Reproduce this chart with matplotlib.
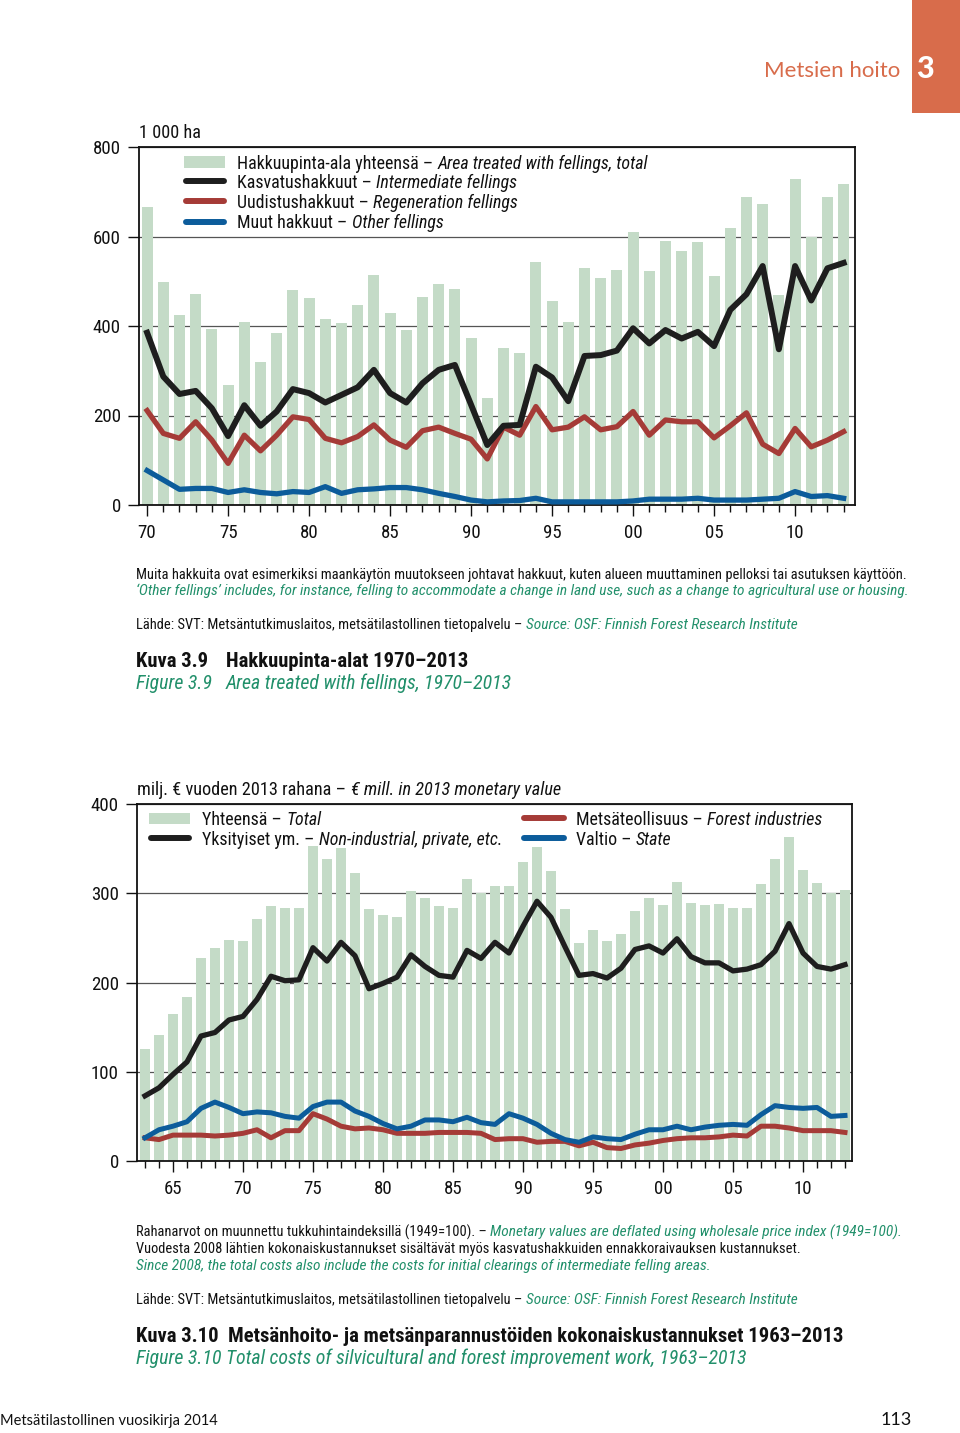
import matplotlib
matplotlib.use('Agg')
import matplotlib.pyplot as plt
from matplotlib import font_manager
from matplotlib.patches import Rectangle
from matplotlib.lines import Line2D

# ---------------- data ----------------
years1 = list(range(1970, 2014))
area_total = [667, 498, 425, 471, 393, 268, 410, 319, 384, 481,
              463, 416, 407, 446, 513, 428, 390, 465, 493, 482,
              373, 238, 351, 340, 542, 456, 409, 530, 507, 525,
              610, 524, 591, 568, 588, 511, 619, 688, 673, 470,
              728, 600, 688, 718]
intermediate = [385, 287, 248, 255, 216, 154, 223, 177, 209, 259,
                250, 229, 246, 263, 302, 250, 229, 272, 302, 313,
                224, 134, 177, 179, 309, 285, 232, 333, 335, 345,
                395, 361, 391, 372, 387, 355, 436, 471, 534, 348,
                534, 457, 529, 541]
regeneration = [211, 160, 149, 186, 145, 93, 156, 121, 156, 197,
                191, 149, 139, 153, 179, 145, 129, 166, 174, 160,
                147, 103, 174, 156, 220, 168, 174, 197, 168, 175,
                209, 156, 190, 186, 186, 150, 177, 206, 136, 115,
                171, 130, 145, 164]
other = [77, 56, 35, 37, 37, 28, 34, 28, 25, 30,
         28, 41, 26, 34, 36, 39, 39, 34, 26, 19,
         11, 7, 9, 10, 15, 7, 7, 7, 7, 7,
         9, 13, 13, 13, 15, 11, 11, 11, 13, 15,
         30, 19, 21, 15]
xt1 = [1970, 1975, 1980, 1985, 1990, 1995, 2000, 2005, 2010]
xt1_labels = ['70', '75', '80', '85', '90', '95', '00', '05', '10']
yt1 = [0, 200, 400, 600, 800]

years2 = list(range(1963, 2014))
total_costs = [125, 141, 165, 184, 227, 239, 248,
               247, 271, 286, 284, 284, 353, 338, 351, 323, 282,
               276, 273, 302, 295, 286, 283, 316, 300, 308, 308,
               335, 352, 325, 282, 244, 259, 247, 254, 280, 295,
               287, 313, 289, 287, 288, 283, 283, 310, 338, 363,
               326, 312, 300, 304]
private = [73, 82, 97, 111, 140, 144, 158,
           162, 181, 207, 202, 203, 239, 224, 245, 230, 193,
           199, 206, 231, 218, 208, 206, 236, 227, 245, 233,
           263, 291, 273, 240, 208, 210, 205, 216, 237, 241,
           233, 249, 229, 222, 222, 213, 215, 220, 235, 266,
           233, 218, 215, 220]
industries = [26, 24, 29, 29, 29, 28, 29,
              31, 35, 26, 34, 34, 53, 47, 39, 36, 37,
              35, 31, 31, 31, 32, 32, 32, 31, 24, 25,
              25, 21, 22, 22, 17, 21, 15, 14, 18, 20,
              23, 25, 26, 26, 27, 29, 28, 39, 39, 37,
              34, 34, 34, 32]
state = [26, 35, 39, 44, 59, 66, 60,
         53, 55, 54, 50, 48, 61, 66, 66, 56, 50,
         42, 36, 39, 46, 46, 44, 49, 43, 41, 53,
         48, 41, 31, 24, 21, 27, 25, 24, 30, 35,
         35, 39, 35, 38, 40, 41, 40, 52, 62, 60,
         59, 60, 50, 51]
xt2 = [1965, 1970, 1975, 1980, 1985, 1990, 1995, 2000, 2005, 2010]
xt2_labels = ['65', '70', '75', '80', '85', '90', '95', '00', '05', '10']
yt2 = [0, 100, 200, 300, 400]

NOTE1 = ('Muita hakkuita ovat esimerkiksi maankäytön muutokseen johtavat hakkuut, '
         'kuten alueen muuttaminen pelloksi tai asutuksen käyttöön.')

# ---------------- style ----------------
names = {f.name for f in font_manager.fontManager.ttflist}
main = 'Liberation Sans'
for cand in ['Roboto Condensed', 'Archivo Narrow', 'PT Sans Narrow', 'Liberation Sans Narrow']:
    if cand in names:
        main = cand
        break
FAM = [main, 'DejaVu Sans']
GILL = ['Lato', 'DejaVu Sans']
plt.rcParams['font.family'] = FAM

BAR = '#c4dbc7'
BLACK = '#1e1e1e'
RED = '#a53b37'
BLUE = '#0c5c9b'
GREEN_T = '#22906b'
ORANGE = '#d86c4b'
INK = '#111111'

W, H = 960, 1433
fig = plt.figure(figsize=(9.6, 14.33), dpi=100)
renderer = fig.canvas.get_renderer()

# calibrate the font size so the first note line spans its reference width
_t = fig.text(0, 0, NOTE1, fontsize=10, family=FAM)
SC = 0.995 * 767.0 / _t.get_window_extent(renderer=renderer).width
_t.remove()


def fx(x):
    return x / W


def fy(y):
    return 1 - y / H


def mtext(x, y, parts, gap=0.25):
    cx = x
    for s, it, col, bold, size in parts:
        t = fig.text(fx(cx), fy(y), s, fontsize=size * SC,
                     fontstyle='italic' if it else 'normal',
                     fontweight='bold' if bold else 'normal',
                     color=col, family=FAM, ha='left', va='baseline')
        bb = t.get_window_extent(renderer=renderer)
        cx = bb.x1 + gap * size * SC * 100 / 72


def style_axes(ax, xt, xtl, yt, minor):
    for sp in ax.spines.values():
        sp.set_linewidth(1.3)
        sp.set_color(INK)
    ax.set_xticks(xt, labels=xtl)
    ax.set_xticks(minor, minor=True)
    ax.set_yticks(yt)
    ax.tick_params(axis='x', which='major', length=8, width=1.0, pad=6,
                   labelsize=13 * SC, colors=INK)
    ax.tick_params(axis='x', which='minor', length=5, width=1.0, colors=INK)
    ax.tick_params(axis='y', length=8, width=1.0, pad=5, labelsize=13 * SC,
                   colors=INK)
    ax.yaxis.grid(True, color='#555555', lw=0.9)
    ax.set_axisbelow(True)


NS, NI = 10.0, 10.6      # note text: upright / italic
LS = 12.3                # legend text
TS, TI = 14.2, 13.7      # caption: bold / italic
US = 12.6                # unit labels

# ---------------- chart 1 ----------------
ax1 = fig.add_axes([fx(139), fy(505), (855 - 139) / W, (505 - 147) / H])
ax1.bar(years1, area_total, width=0.68, color=BAR, zorder=1)
ax1.plot(years1, intermediate, color=BLACK, lw=4.3, solid_joinstyle='round', zorder=4)
ax1.plot(years1, regeneration, color=RED, lw=3.8, solid_joinstyle='round', zorder=3)
ax1.plot(years1, other, color=BLUE, lw=3.8, solid_joinstyle='round', zorder=3)
ax1.set_xlim(1969.5, 2013.7)
ax1.set_ylim(0, 800)
style_axes(ax1, xt1, xt1_labels, yt1, years1)

mtext(139, 138, [('1 000 ha', False, INK, False, US)])

# legend chart 1
fig.add_artist(Rectangle((fx(184), fy(168)), 41 / W, 12 / H, transform=fig.transFigure,
                         color=BAR, lw=0))
for yy, col in [(181, BLACK), (201, RED), (221.5, BLUE)]:
    fig.add_artist(Line2D([fx(186), fx(224)], [fy(yy), fy(yy)], transform=fig.transFigure,
                          color=col, lw=4.3, solid_capstyle='round'))
mtext(237, 169, [('Hakkuupinta-ala yhteensä –', False, INK, False, LS),
                 ('Area treated with fellings, total', True, INK, False, LS)])
mtext(237, 188, [('Kasvatushakkuut –', False, INK, False, LS),
                 ('Intermediate fellings', True, INK, False, LS)])
mtext(237, 208, [('Uudistushakkuut –', False, INK, False, LS),
                 ('Regeneration fellings', True, INK, False, LS)])
mtext(237, 228, [('Muut hakkuut –', False, INK, False, LS),
                 ('Other fellings', True, INK, False, LS)])

# notes chart 1
mtext(136, 579, [(NOTE1, False, INK, False, NS)])
mtext(136, 595, [('‘Other fellings’ includes, for instance, felling to accommodate a change in '
                  'land use, such as a change to agricultural use or housing.', True, GREEN_T, False, NI)])
mtext(136, 629, [('Lähde: SVT: Metsäntutkimuslaitos, metsätilastollinen tietopalvelu –', False, INK, False, NS),
                 ('Source: OSF: Finnish Forest Research Institute', True, GREEN_T, False, NI)])
mtext(136, 667, [('Kuva 3.9', False, INK, True, TS)])
mtext(226, 667, [('Hakkuupinta-alat 1970–2013', False, INK, True, TS)])
mtext(136, 689, [('Figure 3.9', True, GREEN_T, False, TI)])
mtext(226, 689, [('Area treated with fellings, 1970–2013', True, GREEN_T, False, TI)])

# ---------------- chart 2 ----------------
ax2 = fig.add_axes([fx(137), fy(1161), (852 - 137) / W, (1161 - 804) / H])
ax2.bar(years2, total_costs, width=0.70, color=BAR, zorder=1)
ax2.plot(years2, private, color=BLACK, lw=3.8, solid_joinstyle='round', zorder=4)
ax2.plot(years2, industries, color=RED, lw=3.6, solid_joinstyle='round', zorder=3)
ax2.plot(years2, state, color=BLUE, lw=3.6, solid_joinstyle='round', zorder=3)
ax2.set_xlim(1962.43, 2013.5)
ax2.set_ylim(0, 400)
style_axes(ax2, xt2, xt2_labels, yt2, years2)

mtext(137, 795, [('milj. € vuoden 2013 rahana –', False, INK, False, US),
                 ('€ mill. in 2013 monetary value', True, INK, False, US)])

fig.add_artist(Rectangle((fx(149), fy(824)), 41 / W, 11 / H, transform=fig.transFigure,
                         color=BAR, lw=0))
fig.add_artist(Line2D([fx(151), fx(189)], [fy(838), fy(838)], transform=fig.transFigure,
                      color=BLACK, lw=4.3, solid_capstyle='round'))
fig.add_artist(Line2D([fx(524), fx(564)], [fy(818), fy(818)], transform=fig.transFigure,
                      color=RED, lw=4.3, solid_capstyle='round'))
fig.add_artist(Line2D([fx(524), fx(564)], [fy(838), fy(838)], transform=fig.transFigure,
                      color=BLUE, lw=4.3, solid_capstyle='round'))
mtext(202, 825, [('Yhteensä –', False, INK, False, LS), ('Total', True, INK, False, LS)])
mtext(202, 845, [('Yksityiset ym. –', False, INK, False, LS),
                 ('Non-industrial, private, etc.', True, INK, False, LS)])
mtext(576, 825, [('Metsäteollisuus –', False, INK, False, LS),
                 ('Forest industries', True, INK, False, LS)])
mtext(576, 845, [('Valtio –', False, INK, False, LS), ('State', True, INK, False, LS)])

mtext(136, 1237, [('Rahanarvot on muunnettu tukkuhintaindeksillä (1949=100). –', False, INK, False, NS),
                  ('Monetary values are deflated using wholesale price index (1949=100).', True, GREEN_T, False, NI)])
mtext(136, 1253, [('Vuodesta 2008 lähtien kokonaiskustannukset sisältävät myös kasvatushakkuiden '
                   'ennakkoraivauksen kustannukset.', False, INK, False, NS)])
mtext(136, 1270, [('Since 2008, the total costs also include the costs for initial clearings of '
                   'intermediate felling areas.', True, GREEN_T, False, NI)])
mtext(136, 1304, [('Lähde: SVT: Metsäntutkimuslaitos, metsätilastollinen tietopalvelu –', False, INK, False, NS),
                  ('Source: OSF: Finnish Forest Research Institute', True, GREEN_T, False, NI)])
mtext(136, 1342, [('Kuva 3.10  Metsänhoito- ja metsänparannustöiden kokonaiskustannukset 1963–2013',
                   False, INK, True, TS)])
mtext(136, 1364, [('Figure 3.10 Total costs of silvicultural and forest improvement work, 1963–2013',
                   True, GREEN_T, False, TI)])

# ---------------- page header / footer ----------------
fig.add_artist(Rectangle((fx(912), fy(113)), 48 / W, 113 / H, transform=fig.transFigure,
                         color=ORANGE, lw=0))
fig.text(fx(925), fy(78), '3', fontsize=22, fontweight='black', color='white',
         family=GILL, ha='center', va='baseline')
fig.text(fx(900), fy(77), 'Metsien hoito', fontsize=16, color=ORANGE,
         family=GILL, ha='right', va='baseline')
fig.text(fx(0), fy(1425), 'Metsätilastollinen vuosikirja 2014', fontsize=10.5, color=INK,
         family=GILL, ha='left', va='baseline')
fig.text(fx(912), fy(1425), '113', fontsize=13, color=INK,
         family=GILL, ha='right', va='baseline')

fig.savefig('out.png', dpi=100)
